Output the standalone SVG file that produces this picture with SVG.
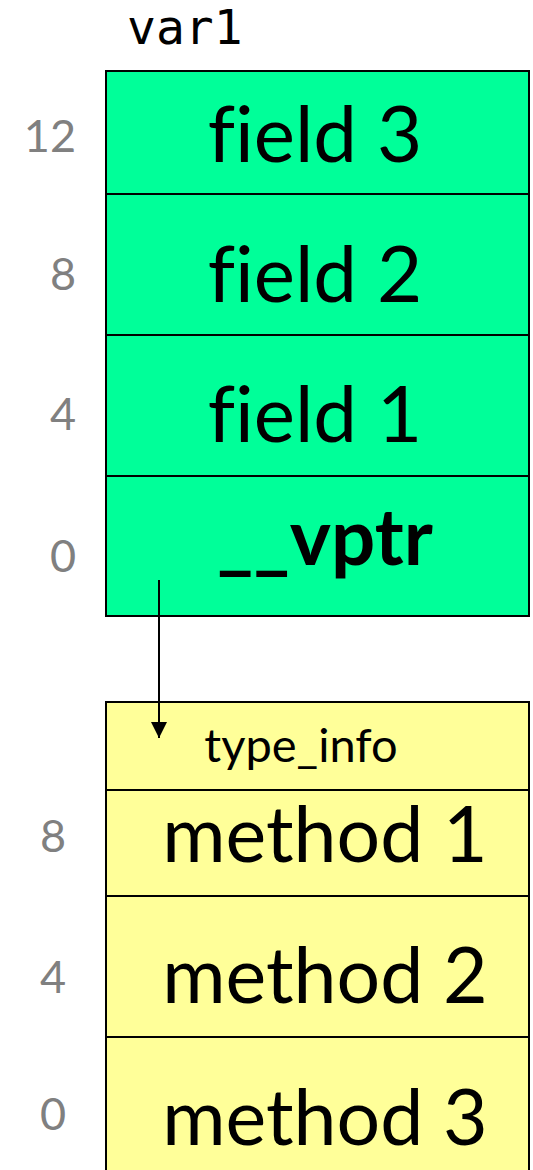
<svg xmlns="http://www.w3.org/2000/svg" width="533" height="1170" viewBox="0 0 533 1170">
<style>
.box{stroke:#000;stroke-width:2}
.g{fill:#00FF99}
.y{fill:#FFFF99}
.div{stroke:#000;stroke-width:2}
.t{font-family:Lato,"Open Sans","Liberation Sans",sans-serif;fill:#000;text-anchor:middle;font-variant-ligatures:none}
.off{font-family:Lato,"Open Sans","Liberation Sans",sans-serif;fill:#808080;font-size:45px;text-anchor:end}
.mono{font-family:"DejaVu Sans Mono","Liberation Mono",monospace;font-size:48px;fill:#000}
</style>
<defs>
<marker id="ah" markerWidth="16" markerHeight="16" viewBox="0 0 16 16" refX="16" refY="8" orient="auto" markerUnits="userSpaceOnUse">
<path d="M0,0 L16,8 L0,16 z" fill="#000"/>
</marker>
</defs>
<text class="mono" x="127" y="44">var1</text>
<g id="var1">
<rect class="box g" x="106" y="71" width="423" height="545"/>
<line class="div" x1="106" y1="194" x2="529" y2="194"/>
<line class="div" x1="106" y1="335" x2="529" y2="335"/>
<line class="div" x1="106" y1="476" x2="529" y2="476"/>
<text class="t" x="315" y="162" font-size="78">field 3</text>
<text class="t" x="315" y="302" font-size="78">field 2</text>
<text class="t" x="315" y="442" font-size="78">field 1</text>
<text class="t" x="325" y="565" font-size="78" font-weight="bold">__vptr</text>
<text class="off" x="76" y="152">12</text>
<text class="off" x="76" y="290">8</text>
<text class="off" x="76" y="430">4</text>
<text class="off" x="76" y="572">0</text>
</g>
<g id="vtable">
<rect class="box y" x="106" y="702" width="423" height="480"/>
<line class="div" x1="106" y1="790" x2="529" y2="790"/>
<line class="div" x1="106" y1="896" x2="529" y2="896"/>
<line class="div" x1="106" y1="1037" x2="529" y2="1037"/>
<text class="t" x="301" y="762" font-size="47">type_info</text>
<text class="t" x="325" y="862" font-size="77">method 1</text>
<text class="t" x="325" y="1003" font-size="77">method 2</text>
<text class="t" x="325" y="1145" font-size="77">method 3</text>
<text class="off" x="66" y="852">8</text>
<text class="off" x="66" y="993">4</text>
<text class="off" x="66" y="1130">0</text>
</g>
<g id="connectors">
<line x1="159" y1="580" x2="159" y2="738" stroke="#000" stroke-width="2" marker-end="url(#ah)"/>
</g>
</svg>
